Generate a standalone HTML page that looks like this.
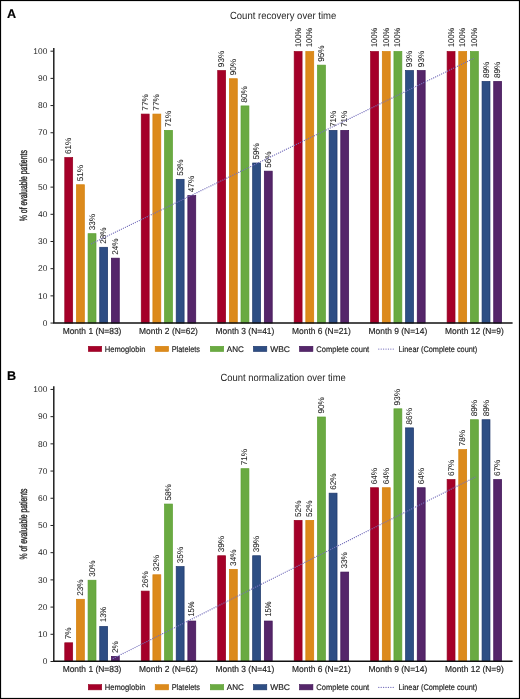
<!DOCTYPE html>
<html><head><meta charset="utf-8"><style>
html,body{margin:0;padding:0;background:#fff;width:520px;height:699px;overflow:hidden}
#w{will-change:transform;width:520px;height:699px;background:#fff}
svg{display:block;text-rendering:geometricPrecision;font-family:"Liberation Sans",sans-serif}
text{stroke:#1e1e1e;stroke-width:0.18px;paint-order:stroke}
text.y{stroke-width:0.35px}
text.t{stroke-width:0}
text.ti{stroke-width:0}
text.l{stroke-width:0.06px}
</style></head><body><div id="w">
<svg width="520" height="699" viewBox="0 0 520 699">
<rect x="0" y="0" width="520" height="699" fill="#fff"/>
<text x="7.0" y="17.5" font-size="12.6" font-weight="bold" fill="#000">A</text>
<text class="ti" x="283.1" y="18.75" font-size="10.3" text-anchor="middle" textLength="106.3" lengthAdjust="spacingAndGlyphs" fill="#1e1e1e">Count recovery over time</text>
<text transform="translate(27.4,185.65) rotate(-90)" class="y" font-size="10.6" text-anchor="middle" textLength="71" lengthAdjust="spacingAndGlyphs" fill="#1e1e1e">% of evaluable patients</text>
<rect x="64.78" y="157.57" width="7.9" height="165.48" fill="#a50029" stroke="#94001f" stroke-width="0.7"/>
<rect x="76.43" y="184.76" width="7.9" height="138.29" fill="#dc8a1c" stroke="#d47f08" stroke-width="0.7"/>
<rect x="88.08" y="233.69" width="7.9" height="89.36" fill="#6aaa42" stroke="#5a9e30" stroke-width="0.7"/>
<rect x="99.73" y="247.28" width="7.9" height="75.77" fill="#2e4e84" stroke="#1c3568" stroke-width="0.7"/>
<rect x="111.38" y="258.16" width="7.9" height="64.89" fill="#55266a" stroke="#3e1254" stroke-width="0.7"/>
<rect x="141.25" y="114.08" width="7.9" height="208.97" fill="#a50029" stroke="#94001f" stroke-width="0.7"/>
<rect x="152.9" y="114.08" width="7.9" height="208.97" fill="#dc8a1c" stroke="#d47f08" stroke-width="0.7"/>
<rect x="164.55" y="130.39" width="7.9" height="192.66" fill="#6aaa42" stroke="#5a9e30" stroke-width="0.7"/>
<rect x="176.2" y="179.32" width="7.9" height="143.73" fill="#2e4e84" stroke="#1c3568" stroke-width="0.7"/>
<rect x="187.85" y="195.63" width="7.9" height="127.42" fill="#55266a" stroke="#3e1254" stroke-width="0.7"/>
<rect x="217.72" y="70.58" width="7.9" height="252.47" fill="#a50029" stroke="#94001f" stroke-width="0.7"/>
<rect x="229.37" y="78.73" width="7.9" height="244.32" fill="#dc8a1c" stroke="#d47f08" stroke-width="0.7"/>
<rect x="241.02" y="105.92" width="7.9" height="217.13" fill="#6aaa42" stroke="#5a9e30" stroke-width="0.7"/>
<rect x="252.67" y="163.01" width="7.9" height="160.04" fill="#2e4e84" stroke="#1c3568" stroke-width="0.7"/>
<rect x="264.32" y="171.16" width="7.9" height="151.89" fill="#55266a" stroke="#3e1254" stroke-width="0.7"/>
<rect x="294.18" y="51.55" width="7.9" height="271.5" fill="#a50029" stroke="#94001f" stroke-width="0.7"/>
<rect x="305.83" y="51.55" width="7.9" height="271.5" fill="#dc8a1c" stroke="#d47f08" stroke-width="0.7"/>
<rect x="317.48" y="65.14" width="7.9" height="257.91" fill="#6aaa42" stroke="#5a9e30" stroke-width="0.7"/>
<rect x="329.13" y="130.39" width="7.9" height="192.66" fill="#2e4e84" stroke="#1c3568" stroke-width="0.7"/>
<rect x="340.78" y="130.39" width="7.9" height="192.66" fill="#55266a" stroke="#3e1254" stroke-width="0.7"/>
<rect x="370.65" y="51.55" width="7.9" height="271.5" fill="#a50029" stroke="#94001f" stroke-width="0.7"/>
<rect x="382.3" y="51.55" width="7.9" height="271.5" fill="#dc8a1c" stroke="#d47f08" stroke-width="0.7"/>
<rect x="393.95" y="51.55" width="7.9" height="271.5" fill="#6aaa42" stroke="#5a9e30" stroke-width="0.7"/>
<rect x="405.6" y="70.58" width="7.9" height="252.47" fill="#2e4e84" stroke="#1c3568" stroke-width="0.7"/>
<rect x="417.25" y="70.58" width="7.9" height="252.47" fill="#55266a" stroke="#3e1254" stroke-width="0.7"/>
<rect x="447.12" y="51.55" width="7.9" height="271.5" fill="#a50029" stroke="#94001f" stroke-width="0.7"/>
<rect x="458.77" y="51.55" width="7.9" height="271.5" fill="#dc8a1c" stroke="#d47f08" stroke-width="0.7"/>
<rect x="470.42" y="51.55" width="7.9" height="271.5" fill="#6aaa42" stroke="#5a9e30" stroke-width="0.7"/>
<rect x="482.07" y="81.45" width="7.9" height="241.6" fill="#2e4e84" stroke="#1c3568" stroke-width="0.7"/>
<rect x="493.72" y="81.45" width="7.9" height="241.6" fill="#55266a" stroke="#3e1254" stroke-width="0.7"/>
<text class="l" transform="translate(71.24,154.12) rotate(-90)" font-size="8.4" textLength="16.31" lengthAdjust="spacingAndGlyphs" fill="#1e1e1e">61%</text>
<text class="l" transform="translate(82.89,181.31) rotate(-90)" font-size="8.4" textLength="16.31" lengthAdjust="spacingAndGlyphs" fill="#1e1e1e">51%</text>
<text class="l" transform="translate(94.54,230.24) rotate(-90)" font-size="8.4" textLength="16.31" lengthAdjust="spacingAndGlyphs" fill="#1e1e1e">33%</text>
<text class="l" transform="translate(106.19,243.83) rotate(-90)" font-size="8.4" textLength="16.31" lengthAdjust="spacingAndGlyphs" fill="#1e1e1e">28%</text>
<text class="l" transform="translate(117.84,254.71) rotate(-90)" font-size="8.4" textLength="16.31" lengthAdjust="spacingAndGlyphs" fill="#1e1e1e">24%</text>
<text class="l" transform="translate(147.71,110.63) rotate(-90)" font-size="8.4" textLength="16.31" lengthAdjust="spacingAndGlyphs" fill="#1e1e1e">77%</text>
<text class="l" transform="translate(159.36,110.63) rotate(-90)" font-size="8.4" textLength="16.31" lengthAdjust="spacingAndGlyphs" fill="#1e1e1e">77%</text>
<text class="l" transform="translate(171.01,126.94) rotate(-90)" font-size="8.4" textLength="16.31" lengthAdjust="spacingAndGlyphs" fill="#1e1e1e">71%</text>
<text class="l" transform="translate(182.66,175.87) rotate(-90)" font-size="8.4" textLength="16.31" lengthAdjust="spacingAndGlyphs" fill="#1e1e1e">53%</text>
<text class="l" transform="translate(194.31,192.18) rotate(-90)" font-size="8.4" textLength="16.31" lengthAdjust="spacingAndGlyphs" fill="#1e1e1e">47%</text>
<text class="l" transform="translate(224.17,67.13) rotate(-90)" font-size="8.4" textLength="16.31" lengthAdjust="spacingAndGlyphs" fill="#1e1e1e">93%</text>
<text class="l" transform="translate(235.82,75.28) rotate(-90)" font-size="8.4" textLength="16.31" lengthAdjust="spacingAndGlyphs" fill="#1e1e1e">90%</text>
<text class="l" transform="translate(247.47,102.47) rotate(-90)" font-size="8.4" textLength="16.31" lengthAdjust="spacingAndGlyphs" fill="#1e1e1e">80%</text>
<text class="l" transform="translate(259.12,159.56) rotate(-90)" font-size="8.4" textLength="16.31" lengthAdjust="spacingAndGlyphs" fill="#1e1e1e">59%</text>
<text class="l" transform="translate(270.77,167.71) rotate(-90)" font-size="8.4" textLength="16.31" lengthAdjust="spacingAndGlyphs" fill="#1e1e1e">56%</text>
<text class="l" transform="translate(300.64,47.1) rotate(-90)" font-size="8.4" textLength="19.21" lengthAdjust="spacingAndGlyphs" fill="#1e1e1e">100%</text>
<text class="l" transform="translate(312.29,47.1) rotate(-90)" font-size="8.4" textLength="19.21" lengthAdjust="spacingAndGlyphs" fill="#1e1e1e">100%</text>
<text class="l" transform="translate(323.94,61.69) rotate(-90)" font-size="8.4" textLength="16.31" lengthAdjust="spacingAndGlyphs" fill="#1e1e1e">95%</text>
<text class="l" transform="translate(335.59,126.94) rotate(-90)" font-size="8.4" textLength="16.31" lengthAdjust="spacingAndGlyphs" fill="#1e1e1e">71%</text>
<text class="l" transform="translate(347.24,126.94) rotate(-90)" font-size="8.4" textLength="16.31" lengthAdjust="spacingAndGlyphs" fill="#1e1e1e">71%</text>
<text class="l" transform="translate(377.11,47.1) rotate(-90)" font-size="8.4" textLength="19.21" lengthAdjust="spacingAndGlyphs" fill="#1e1e1e">100%</text>
<text class="l" transform="translate(388.76,47.1) rotate(-90)" font-size="8.4" textLength="19.21" lengthAdjust="spacingAndGlyphs" fill="#1e1e1e">100%</text>
<text class="l" transform="translate(400.41,47.1) rotate(-90)" font-size="8.4" textLength="19.21" lengthAdjust="spacingAndGlyphs" fill="#1e1e1e">100%</text>
<text class="l" transform="translate(412.06,67.13) rotate(-90)" font-size="8.4" textLength="16.31" lengthAdjust="spacingAndGlyphs" fill="#1e1e1e">93%</text>
<text class="l" transform="translate(423.71,67.13) rotate(-90)" font-size="8.4" textLength="16.31" lengthAdjust="spacingAndGlyphs" fill="#1e1e1e">93%</text>
<text class="l" transform="translate(453.57,47.1) rotate(-90)" font-size="8.4" textLength="19.21" lengthAdjust="spacingAndGlyphs" fill="#1e1e1e">100%</text>
<text class="l" transform="translate(465.22,47.1) rotate(-90)" font-size="8.4" textLength="19.21" lengthAdjust="spacingAndGlyphs" fill="#1e1e1e">100%</text>
<text class="l" transform="translate(476.87,47.1) rotate(-90)" font-size="8.4" textLength="19.21" lengthAdjust="spacingAndGlyphs" fill="#1e1e1e">100%</text>
<text class="l" transform="translate(488.52,78) rotate(-90)" font-size="8.4" textLength="16.31" lengthAdjust="spacingAndGlyphs" fill="#1e1e1e">89%</text>
<text class="l" transform="translate(500.17,78) rotate(-90)" font-size="8.4" textLength="16.31" lengthAdjust="spacingAndGlyphs" fill="#1e1e1e">89%</text>
<line x1="91.6" y1="243.7" x2="475" y2="57.8" stroke="#7670bc" stroke-width="1.3" stroke-linecap="round" stroke-dasharray="0.01 2.2"/>
<line x1="53.8" y1="48" x2="53.8" y2="322.95" stroke="#111" stroke-width="1.4"/>
<line x1="53.05" y1="322.95" x2="512.6" y2="322.95" stroke="#111" stroke-width="1.4"/>
<line x1="50.5" y1="323.05" x2="53.8" y2="323.05" stroke="#222" stroke-width="1"/>
<text class="t" x="47.3" y="325.75" font-size="8.4" text-anchor="end" fill="#1e1e1e">0</text>
<line x1="50.5" y1="295.87" x2="53.8" y2="295.87" stroke="#222" stroke-width="1"/>
<text class="t" x="47.3" y="298.56" font-size="8.4" text-anchor="end" fill="#1e1e1e">10</text>
<line x1="50.5" y1="268.68" x2="53.8" y2="268.68" stroke="#222" stroke-width="1"/>
<text class="t" x="47.3" y="271.38" font-size="8.4" text-anchor="end" fill="#1e1e1e">20</text>
<line x1="50.5" y1="241.5" x2="53.8" y2="241.5" stroke="#222" stroke-width="1"/>
<text class="t" x="47.3" y="244.19" font-size="8.4" text-anchor="end" fill="#1e1e1e">30</text>
<line x1="50.5" y1="214.31" x2="53.8" y2="214.31" stroke="#222" stroke-width="1"/>
<text class="t" x="47.3" y="217.01" font-size="8.4" text-anchor="end" fill="#1e1e1e">40</text>
<line x1="50.5" y1="187.12" x2="53.8" y2="187.12" stroke="#222" stroke-width="1"/>
<text class="t" x="47.3" y="189.82" font-size="8.4" text-anchor="end" fill="#1e1e1e">50</text>
<line x1="50.5" y1="159.94" x2="53.8" y2="159.94" stroke="#222" stroke-width="1"/>
<text class="t" x="47.3" y="162.64" font-size="8.4" text-anchor="end" fill="#1e1e1e">60</text>
<line x1="50.5" y1="132.75" x2="53.8" y2="132.75" stroke="#222" stroke-width="1"/>
<text class="t" x="47.3" y="135.45" font-size="8.4" text-anchor="end" fill="#1e1e1e">70</text>
<line x1="50.5" y1="105.57" x2="53.8" y2="105.57" stroke="#222" stroke-width="1"/>
<text class="t" x="47.3" y="108.27" font-size="8.4" text-anchor="end" fill="#1e1e1e">80</text>
<line x1="50.5" y1="78.38" x2="53.8" y2="78.38" stroke="#222" stroke-width="1"/>
<text class="t" x="47.3" y="81.08" font-size="8.4" text-anchor="end" fill="#1e1e1e">90</text>
<line x1="50.5" y1="51.2" x2="53.8" y2="51.2" stroke="#222" stroke-width="1"/>
<text class="t" x="47.3" y="53.9" font-size="8.4" text-anchor="end" fill="#1e1e1e">100</text>
<text x="92.03" y="333.5" font-size="8.7" text-anchor="middle" textLength="58.8" lengthAdjust="spacingAndGlyphs" fill="#1e1e1e">Month 1 (N=83)</text>
<text x="168.5" y="333.5" font-size="8.7" text-anchor="middle" textLength="58.8" lengthAdjust="spacingAndGlyphs" fill="#1e1e1e">Month 2 (N=62)</text>
<text x="244.97" y="333.5" font-size="8.7" text-anchor="middle" textLength="58.8" lengthAdjust="spacingAndGlyphs" fill="#1e1e1e">Month 3 (N=41)</text>
<text x="321.43" y="333.5" font-size="8.7" text-anchor="middle" textLength="58.8" lengthAdjust="spacingAndGlyphs" fill="#1e1e1e">Month 6 (N=21)</text>
<text x="397.9" y="333.5" font-size="8.7" text-anchor="middle" textLength="58.8" lengthAdjust="spacingAndGlyphs" fill="#1e1e1e">Month 9 (N=14)</text>
<text x="474.37" y="333.5" font-size="8.7" text-anchor="middle" textLength="58.8" lengthAdjust="spacingAndGlyphs" fill="#1e1e1e">Month 12 (N=9)</text>
<rect x="88.3" y="346.3" width="13.4" height="5.2" fill="#a50029" stroke="#94001f" stroke-width="0.6"/>
<text x="104.8" y="351.8" font-size="8.2" textLength="40.6" lengthAdjust="spacingAndGlyphs" fill="#1e1e1e">Hemoglobin</text>
<rect x="155.2" y="346.3" width="13.4" height="5.2" fill="#dc8a1c" stroke="#d47f08" stroke-width="0.6"/>
<text x="171.7" y="351.8" font-size="8.2" textLength="28.3" lengthAdjust="spacingAndGlyphs" fill="#1e1e1e">Platelets</text>
<rect x="210.3" y="346.3" width="13.4" height="5.2" fill="#6aaa42" stroke="#5a9e30" stroke-width="0.6"/>
<text x="226.8" y="351.8" font-size="8.2" textLength="17" lengthAdjust="spacingAndGlyphs" fill="#1e1e1e">ANC</text>
<rect x="253.4" y="346.3" width="13.4" height="5.2" fill="#2e4e84" stroke="#1c3568" stroke-width="0.6"/>
<text x="270.2" y="351.8" font-size="8.2" textLength="19.8" lengthAdjust="spacingAndGlyphs" fill="#1e1e1e">WBC</text>
<rect x="299.5" y="346.3" width="13.4" height="5.2" fill="#55266a" stroke="#3e1254" stroke-width="0.6"/>
<text x="316.3" y="351.8" font-size="8.2" textLength="52.9" lengthAdjust="spacingAndGlyphs" fill="#1e1e1e">Complete count</text>
<line x1="378.8" y1="349.1" x2="393.5" y2="349.1" stroke="#7670bc" stroke-width="1.3" stroke-linecap="round" stroke-dasharray="0.01 2.4"/>
<text x="398.5" y="351.8" font-size="8.2" textLength="78.8" lengthAdjust="spacingAndGlyphs" fill="#1e1e1e">Linear (Complete count)</text>
<text x="7.0" y="379.6" font-size="12.6" font-weight="bold" fill="#000">B</text>
<text class="ti" x="283.1" y="381.1" font-size="10.3" text-anchor="middle" textLength="125.4" lengthAdjust="spacingAndGlyphs" fill="#1e1e1e">Count normalization over time</text>
<text transform="translate(27.4,524) rotate(-90)" class="y" font-size="10.6" text-anchor="middle" textLength="71" lengthAdjust="spacingAndGlyphs" fill="#1e1e1e">% of evaluable patients</text>
<rect x="64.78" y="642.81" width="7.9" height="18.69" fill="#a50029" stroke="#94001f" stroke-width="0.7"/>
<rect x="76.43" y="599.28" width="7.9" height="62.22" fill="#dc8a1c" stroke="#d47f08" stroke-width="0.7"/>
<rect x="88.08" y="580.23" width="7.9" height="81.27" fill="#6aaa42" stroke="#5a9e30" stroke-width="0.7"/>
<rect x="99.73" y="626.48" width="7.9" height="35.02" fill="#2e4e84" stroke="#1c3568" stroke-width="0.7"/>
<rect x="111.38" y="656.41" width="7.9" height="5.09" fill="#55266a" stroke="#3e1254" stroke-width="0.7"/>
<rect x="141.25" y="591.11" width="7.9" height="70.39" fill="#a50029" stroke="#94001f" stroke-width="0.7"/>
<rect x="152.9" y="574.79" width="7.9" height="86.71" fill="#dc8a1c" stroke="#d47f08" stroke-width="0.7"/>
<rect x="164.55" y="504.06" width="7.9" height="157.44" fill="#6aaa42" stroke="#5a9e30" stroke-width="0.7"/>
<rect x="176.2" y="566.63" width="7.9" height="94.87" fill="#2e4e84" stroke="#1c3568" stroke-width="0.7"/>
<rect x="187.85" y="621.04" width="7.9" height="40.46" fill="#55266a" stroke="#3e1254" stroke-width="0.7"/>
<rect x="217.72" y="555.75" width="7.9" height="105.75" fill="#a50029" stroke="#94001f" stroke-width="0.7"/>
<rect x="229.37" y="569.35" width="7.9" height="92.15" fill="#dc8a1c" stroke="#d47f08" stroke-width="0.7"/>
<rect x="241.02" y="468.69" width="7.9" height="192.81" fill="#6aaa42" stroke="#5a9e30" stroke-width="0.7"/>
<rect x="252.67" y="555.75" width="7.9" height="105.75" fill="#2e4e84" stroke="#1c3568" stroke-width="0.7"/>
<rect x="264.32" y="621.04" width="7.9" height="40.46" fill="#55266a" stroke="#3e1254" stroke-width="0.7"/>
<rect x="294.18" y="520.38" width="7.9" height="141.12" fill="#a50029" stroke="#94001f" stroke-width="0.7"/>
<rect x="305.83" y="520.38" width="7.9" height="141.12" fill="#dc8a1c" stroke="#d47f08" stroke-width="0.7"/>
<rect x="317.48" y="417" width="7.9" height="244.5" fill="#6aaa42" stroke="#5a9e30" stroke-width="0.7"/>
<rect x="329.13" y="493.17" width="7.9" height="168.33" fill="#2e4e84" stroke="#1c3568" stroke-width="0.7"/>
<rect x="340.78" y="572.07" width="7.9" height="89.43" fill="#55266a" stroke="#3e1254" stroke-width="0.7"/>
<rect x="370.65" y="487.73" width="7.9" height="173.77" fill="#a50029" stroke="#94001f" stroke-width="0.7"/>
<rect x="382.3" y="487.73" width="7.9" height="173.77" fill="#dc8a1c" stroke="#d47f08" stroke-width="0.7"/>
<rect x="393.95" y="408.83" width="7.9" height="252.67" fill="#6aaa42" stroke="#5a9e30" stroke-width="0.7"/>
<rect x="405.6" y="427.88" width="7.9" height="233.62" fill="#2e4e84" stroke="#1c3568" stroke-width="0.7"/>
<rect x="417.25" y="487.73" width="7.9" height="173.77" fill="#55266a" stroke="#3e1254" stroke-width="0.7"/>
<rect x="447.12" y="479.57" width="7.9" height="181.93" fill="#a50029" stroke="#94001f" stroke-width="0.7"/>
<rect x="458.77" y="449.64" width="7.9" height="211.86" fill="#dc8a1c" stroke="#d47f08" stroke-width="0.7"/>
<rect x="470.42" y="419.72" width="7.9" height="241.78" fill="#6aaa42" stroke="#5a9e30" stroke-width="0.7"/>
<rect x="482.07" y="419.72" width="7.9" height="241.78" fill="#2e4e84" stroke="#1c3568" stroke-width="0.7"/>
<rect x="493.72" y="479.57" width="7.9" height="181.93" fill="#55266a" stroke="#3e1254" stroke-width="0.7"/>
<text class="l" transform="translate(71.24,639.36) rotate(-90)" font-size="8.4" textLength="11.78" lengthAdjust="spacingAndGlyphs" fill="#1e1e1e">7%</text>
<text class="l" transform="translate(82.89,595.83) rotate(-90)" font-size="8.4" textLength="16.31" lengthAdjust="spacingAndGlyphs" fill="#1e1e1e">23%</text>
<text class="l" transform="translate(94.54,576.78) rotate(-90)" font-size="8.4" textLength="16.31" lengthAdjust="spacingAndGlyphs" fill="#1e1e1e">30%</text>
<text class="l" transform="translate(106.19,622.03) rotate(-90)" font-size="8.4" textLength="15.11" lengthAdjust="spacingAndGlyphs" fill="#1e1e1e">13%</text>
<text class="l" transform="translate(117.84,652.96) rotate(-90)" font-size="8.4" textLength="11.78" lengthAdjust="spacingAndGlyphs" fill="#1e1e1e">2%</text>
<text class="l" transform="translate(147.71,587.66) rotate(-90)" font-size="8.4" textLength="16.31" lengthAdjust="spacingAndGlyphs" fill="#1e1e1e">26%</text>
<text class="l" transform="translate(159.36,571.34) rotate(-90)" font-size="8.4" textLength="16.31" lengthAdjust="spacingAndGlyphs" fill="#1e1e1e">32%</text>
<text class="l" transform="translate(171.01,500.61) rotate(-90)" font-size="8.4" textLength="16.31" lengthAdjust="spacingAndGlyphs" fill="#1e1e1e">58%</text>
<text class="l" transform="translate(182.66,563.18) rotate(-90)" font-size="8.4" textLength="16.31" lengthAdjust="spacingAndGlyphs" fill="#1e1e1e">35%</text>
<text class="l" transform="translate(194.31,616.59) rotate(-90)" font-size="8.4" textLength="15.11" lengthAdjust="spacingAndGlyphs" fill="#1e1e1e">15%</text>
<text class="l" transform="translate(224.17,552.3) rotate(-90)" font-size="8.4" textLength="16.31" lengthAdjust="spacingAndGlyphs" fill="#1e1e1e">39%</text>
<text class="l" transform="translate(235.82,565.9) rotate(-90)" font-size="8.4" textLength="16.31" lengthAdjust="spacingAndGlyphs" fill="#1e1e1e">34%</text>
<text class="l" transform="translate(247.47,465.24) rotate(-90)" font-size="8.4" textLength="16.31" lengthAdjust="spacingAndGlyphs" fill="#1e1e1e">71%</text>
<text class="l" transform="translate(259.12,552.3) rotate(-90)" font-size="8.4" textLength="16.31" lengthAdjust="spacingAndGlyphs" fill="#1e1e1e">39%</text>
<text class="l" transform="translate(270.77,616.59) rotate(-90)" font-size="8.4" textLength="15.11" lengthAdjust="spacingAndGlyphs" fill="#1e1e1e">15%</text>
<text class="l" transform="translate(300.64,516.93) rotate(-90)" font-size="8.4" textLength="16.31" lengthAdjust="spacingAndGlyphs" fill="#1e1e1e">52%</text>
<text class="l" transform="translate(312.29,516.93) rotate(-90)" font-size="8.4" textLength="16.31" lengthAdjust="spacingAndGlyphs" fill="#1e1e1e">52%</text>
<text class="l" transform="translate(323.94,413.55) rotate(-90)" font-size="8.4" textLength="16.31" lengthAdjust="spacingAndGlyphs" fill="#1e1e1e">90%</text>
<text class="l" transform="translate(335.59,489.72) rotate(-90)" font-size="8.4" textLength="16.31" lengthAdjust="spacingAndGlyphs" fill="#1e1e1e">62%</text>
<text class="l" transform="translate(347.24,568.62) rotate(-90)" font-size="8.4" textLength="16.31" lengthAdjust="spacingAndGlyphs" fill="#1e1e1e">33%</text>
<text class="l" transform="translate(377.11,484.28) rotate(-90)" font-size="8.4" textLength="16.31" lengthAdjust="spacingAndGlyphs" fill="#1e1e1e">64%</text>
<text class="l" transform="translate(388.76,484.28) rotate(-90)" font-size="8.4" textLength="16.31" lengthAdjust="spacingAndGlyphs" fill="#1e1e1e">64%</text>
<text class="l" transform="translate(400.41,405.38) rotate(-90)" font-size="8.4" textLength="16.31" lengthAdjust="spacingAndGlyphs" fill="#1e1e1e">93%</text>
<text class="l" transform="translate(412.06,424.43) rotate(-90)" font-size="8.4" textLength="16.31" lengthAdjust="spacingAndGlyphs" fill="#1e1e1e">86%</text>
<text class="l" transform="translate(423.71,484.28) rotate(-90)" font-size="8.4" textLength="16.31" lengthAdjust="spacingAndGlyphs" fill="#1e1e1e">64%</text>
<text class="l" transform="translate(453.57,476.12) rotate(-90)" font-size="8.4" textLength="16.31" lengthAdjust="spacingAndGlyphs" fill="#1e1e1e">67%</text>
<text class="l" transform="translate(465.22,446.19) rotate(-90)" font-size="8.4" textLength="16.31" lengthAdjust="spacingAndGlyphs" fill="#1e1e1e">78%</text>
<text class="l" transform="translate(476.87,416.27) rotate(-90)" font-size="8.4" textLength="16.31" lengthAdjust="spacingAndGlyphs" fill="#1e1e1e">89%</text>
<text class="l" transform="translate(488.52,416.27) rotate(-90)" font-size="8.4" textLength="16.31" lengthAdjust="spacingAndGlyphs" fill="#1e1e1e">89%</text>
<text class="l" transform="translate(500.17,476.12) rotate(-90)" font-size="8.4" textLength="16.31" lengthAdjust="spacingAndGlyphs" fill="#1e1e1e">67%</text>
<line x1="113.3" y1="658.4" x2="475.4" y2="477" stroke="#7670bc" stroke-width="1.3" stroke-linecap="round" stroke-dasharray="0.01 2.2"/>
<line x1="53.8" y1="386.24" x2="53.8" y2="661.3" stroke="#111" stroke-width="1.4"/>
<line x1="53.05" y1="661.3" x2="512.6" y2="661.3" stroke="#111" stroke-width="1.4"/>
<line x1="50.5" y1="661.5" x2="53.8" y2="661.5" stroke="#222" stroke-width="1"/>
<text class="t" x="47.3" y="664.2" font-size="8.4" text-anchor="end" fill="#1e1e1e">0</text>
<line x1="50.5" y1="634.29" x2="53.8" y2="634.29" stroke="#222" stroke-width="1"/>
<text class="t" x="47.3" y="636.99" font-size="8.4" text-anchor="end" fill="#1e1e1e">10</text>
<line x1="50.5" y1="607.09" x2="53.8" y2="607.09" stroke="#222" stroke-width="1"/>
<text class="t" x="47.3" y="609.79" font-size="8.4" text-anchor="end" fill="#1e1e1e">20</text>
<line x1="50.5" y1="579.88" x2="53.8" y2="579.88" stroke="#222" stroke-width="1"/>
<text class="t" x="47.3" y="582.58" font-size="8.4" text-anchor="end" fill="#1e1e1e">30</text>
<line x1="50.5" y1="552.68" x2="53.8" y2="552.68" stroke="#222" stroke-width="1"/>
<text class="t" x="47.3" y="555.38" font-size="8.4" text-anchor="end" fill="#1e1e1e">40</text>
<line x1="50.5" y1="525.47" x2="53.8" y2="525.47" stroke="#222" stroke-width="1"/>
<text class="t" x="47.3" y="528.17" font-size="8.4" text-anchor="end" fill="#1e1e1e">50</text>
<line x1="50.5" y1="498.26" x2="53.8" y2="498.26" stroke="#222" stroke-width="1"/>
<text class="t" x="47.3" y="500.96" font-size="8.4" text-anchor="end" fill="#1e1e1e">60</text>
<line x1="50.5" y1="471.06" x2="53.8" y2="471.06" stroke="#222" stroke-width="1"/>
<text class="t" x="47.3" y="473.76" font-size="8.4" text-anchor="end" fill="#1e1e1e">70</text>
<line x1="50.5" y1="443.85" x2="53.8" y2="443.85" stroke="#222" stroke-width="1"/>
<text class="t" x="47.3" y="446.55" font-size="8.4" text-anchor="end" fill="#1e1e1e">80</text>
<line x1="50.5" y1="416.65" x2="53.8" y2="416.65" stroke="#222" stroke-width="1"/>
<text class="t" x="47.3" y="419.35" font-size="8.4" text-anchor="end" fill="#1e1e1e">90</text>
<line x1="50.5" y1="389.44" x2="53.8" y2="389.44" stroke="#222" stroke-width="1"/>
<text class="t" x="47.3" y="392.14" font-size="8.4" text-anchor="end" fill="#1e1e1e">100</text>
<text x="92.03" y="671.85" font-size="8.7" text-anchor="middle" textLength="58.8" lengthAdjust="spacingAndGlyphs" fill="#1e1e1e">Month 1 (N=83)</text>
<text x="168.5" y="671.85" font-size="8.7" text-anchor="middle" textLength="58.8" lengthAdjust="spacingAndGlyphs" fill="#1e1e1e">Month 2 (N=62)</text>
<text x="244.97" y="671.85" font-size="8.7" text-anchor="middle" textLength="58.8" lengthAdjust="spacingAndGlyphs" fill="#1e1e1e">Month 3 (N=41)</text>
<text x="321.43" y="671.85" font-size="8.7" text-anchor="middle" textLength="58.8" lengthAdjust="spacingAndGlyphs" fill="#1e1e1e">Month 6 (N=21)</text>
<text x="397.9" y="671.85" font-size="8.7" text-anchor="middle" textLength="58.8" lengthAdjust="spacingAndGlyphs" fill="#1e1e1e">Month 9 (N=14)</text>
<text x="474.37" y="671.85" font-size="8.7" text-anchor="middle" textLength="58.8" lengthAdjust="spacingAndGlyphs" fill="#1e1e1e">Month 12 (N=9)</text>
<rect x="88.3" y="684.65" width="13.4" height="5.2" fill="#a50029" stroke="#94001f" stroke-width="0.6"/>
<text x="104.8" y="690.15" font-size="8.2" textLength="40.6" lengthAdjust="spacingAndGlyphs" fill="#1e1e1e">Hemoglobin</text>
<rect x="155.2" y="684.65" width="13.4" height="5.2" fill="#dc8a1c" stroke="#d47f08" stroke-width="0.6"/>
<text x="171.7" y="690.15" font-size="8.2" textLength="28.3" lengthAdjust="spacingAndGlyphs" fill="#1e1e1e">Platelets</text>
<rect x="210.3" y="684.65" width="13.4" height="5.2" fill="#6aaa42" stroke="#5a9e30" stroke-width="0.6"/>
<text x="226.8" y="690.15" font-size="8.2" textLength="17" lengthAdjust="spacingAndGlyphs" fill="#1e1e1e">ANC</text>
<rect x="253.4" y="684.65" width="13.4" height="5.2" fill="#2e4e84" stroke="#1c3568" stroke-width="0.6"/>
<text x="270.2" y="690.15" font-size="8.2" textLength="19.8" lengthAdjust="spacingAndGlyphs" fill="#1e1e1e">WBC</text>
<rect x="299.5" y="684.65" width="13.4" height="5.2" fill="#55266a" stroke="#3e1254" stroke-width="0.6"/>
<text x="316.3" y="690.15" font-size="8.2" textLength="52.9" lengthAdjust="spacingAndGlyphs" fill="#1e1e1e">Complete count</text>
<line x1="378.8" y1="687.45" x2="393.5" y2="687.45" stroke="#7670bc" stroke-width="1.3" stroke-linecap="round" stroke-dasharray="0.01 2.4"/>
<text x="398.5" y="690.15" font-size="8.2" textLength="78.8" lengthAdjust="spacingAndGlyphs" fill="#1e1e1e">Linear (Complete count)</text>
<rect x="0.55" y="0.55" width="518.9" height="697.9" fill="none" stroke="#000" stroke-width="1.1"/>
</svg>
</div></body></html>
